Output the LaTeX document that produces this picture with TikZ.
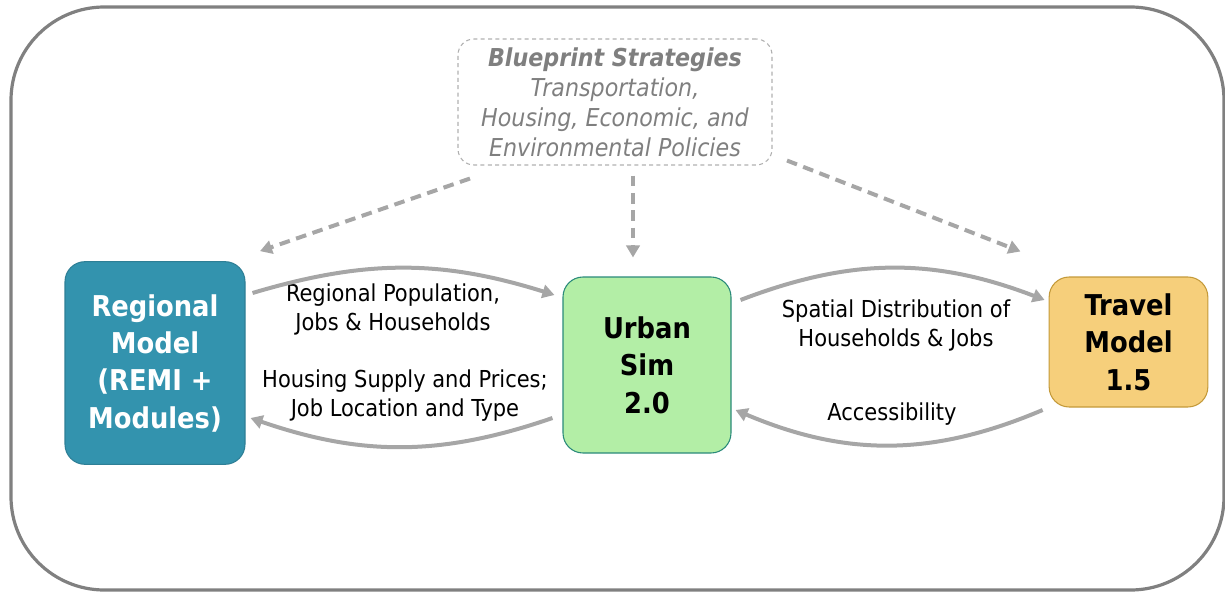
\documentclass[tikz,border=0pt]{standalone}
\usepackage{fontspec}
\setmainfont{DejaVu Sans Condensed}
\usetikzlibrary{arrows.meta}
\definecolor{frame}{HTML}{808080}
\definecolor{arr}{HTML}{A6A6A6}
\definecolor{regf}{HTML}{3393AE}
\definecolor{regd}{HTML}{2E7F96}
\definecolor{urbf}{HTML}{B3EEA6}
\definecolor{urbd}{HTML}{2A8A7A}
\definecolor{trvf}{HTML}{F6CF7B}
\definecolor{trvd}{HTML}{C49A3A}
\definecolor{bpt}{HTML}{7F7F7F}
\definecolor{bpd}{HTML}{B0B0B0}
\tikzset{
  model/.style={rounded corners=15pt, align=center, inner sep=0pt, line width=0.8pt,
     font=\fontsize{21.5pt}{28pt}\selectfont\bfseries},
  lbl/.style={align=center, inner sep=0pt, font=\fontsize{17.5pt}{21.75pt}\selectfont},
  flow/.style={draw=arr, line width=3pt, -{Triangle[length=9pt,width=10pt]}},
  pol/.style={draw=arr, line width=3pt, dash pattern=on 8pt off 5pt, -{Triangle[length=9pt,width=10pt]}},
}
\begin{document}
\begin{tikzpicture}[x=0.75pt,y=-0.75pt]
\useasboundingbox (0,0) rectangle (1225,592);
\draw[frame, line width=2.4pt, rounded corners=70pt] (11,7) rectangle (1224,590);

\node[model, fill=regf, draw=regd, text=white, minimum width=135pt, minimum height=152pt] (reg) at (155,363) {Regional\\Model\\(REMI +\\Modules)};
\node[model, fill=urbf, draw=urbd, text=black, minimum width=126pt, minimum height=132pt] (urb) at (647,365) {Urban\\Sim\\2.0};
\node[model, fill=trvf, draw=trvd, text=black, minimum width=119pt, minimum height=97.5pt] (trv) at (1128.5,342) {Travel\\Model\\1.5};

\node[draw=bpd, line width=0.8pt, dash pattern=on 3pt off 2.5pt, rounded corners=12pt,
      minimum width=235.5pt, minimum height=94.5pt, align=center, inner sep=0pt, text=bpt,
      font=\fontsize{18.5pt}{22.5pt}\selectfont\itshape] (bp) at (615,102)
      {\textbf{Blueprint Strategies}\\Transportation,\\Housing, Economic, and\\Environmental Policies};

\node[lbl] (l1) at (393,309) {Regional Population,\\Jobs \& Households};
\node[lbl] (l2) at (405,396) {Housing Supply and Prices;\\Job Location and Type};
\node[lbl] (l3) at (896,325) {Spatial Distribution of\\Households \& Jobs};
\node[lbl] (l4) at (892,414) {Accessibility};

\draw[flow] ([shift={(7,-70)}]reg.east) to[bend left=17] ([shift={(-8,-70)}]urb.west);
\draw[flow] ([shift={(-10,53)}]urb.west) to[bend left=19] ([shift={(5,55)}]reg.east);
\draw[flow] ([shift={(9,-65)}]urb.east) to[bend left=21] ([shift={(-4,-42)}]trv.west);
\draw[flow] ([shift={(-6,68)}]trv.west) to[bend left=23] ([shift={(4,45)}]urb.east);

\draw[pol] ([shift={(-145,13)}]bp.south) -- ([shift={(105,-10)}]reg.north);
\draw[pol] ([shift={(18,10)}]bp.south) -- ([shift={(-14,-19)}]urb.north);
\draw[pol] ([shift={(172,-5)}]bp.south) -- ([shift={(-108,-25)}]trv.north);
\end{tikzpicture}
\end{document}
